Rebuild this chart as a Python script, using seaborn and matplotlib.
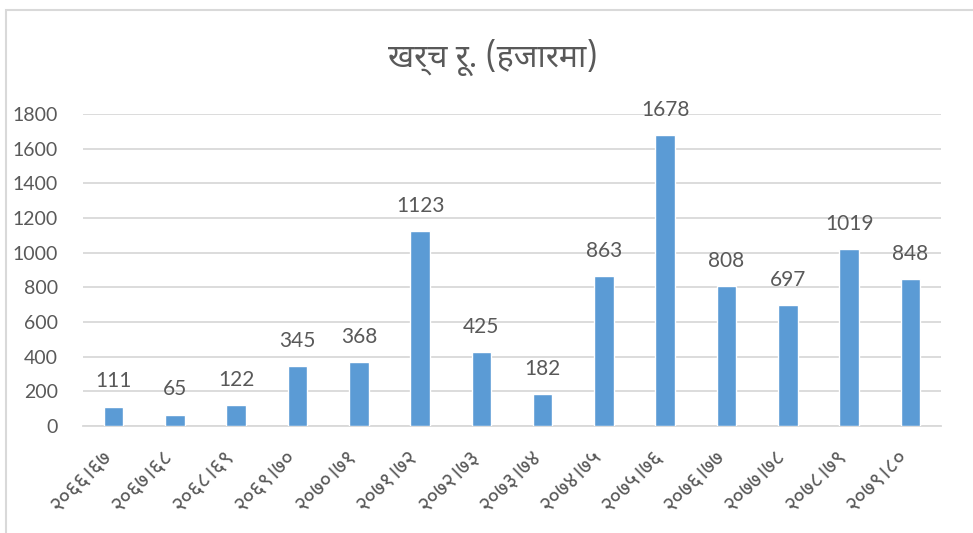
import matplotlib
matplotlib.use("Agg")
import matplotlib.pyplot as plt
from matplotlib.patches import Rectangle
from matplotlib.transforms import ScaledTranslation
import seaborn as sns
import pandas as pd

# ---- data ----
years = ["२०६६।६७", "२०६७।६८", "२०६८।६९", "२०६९।७०", "२०७०।७१", "२०७१।७२", "२०७२।७३",
         "२०७३।७४", "२०७४।७५", "२०७५।७६", "२०७६।७७", "२०७७।७८", "२०७८।७९", "२०७९।८०"]
values = [111, 65, 122, 345, 368, 1123, 425, 182, 863, 1678, 808, 697, 1019, 848]
title_text = "खर्च रू. (हजारमा)"
yticks = [0, 200, 400, 600, 800, 1000, 1200, 1400, 1600, 1800]

sns.set_theme(style="white")
plt.rcParams['font.family'] = ['Noto Sans Devanagari', 'Lato', 'DejaVu Sans']

text_color = "#595959"
grid_color = "#d9d9d9"
bar_color = "#5b9bd5"

fig = plt.figure(figsize=(9.73, 5.33), dpi=100)
ax = fig.add_axes([83/973, 1-426/533, (941-83)/973, (426-114)/533])

df = pd.DataFrame({"year": years, "value": values})
sns.barplot(data=df, x="year", y="value", color=bar_color, width=0.32,
            saturation=1, ax=ax, zorder=3)

ax.set_ylim(0, 1800)
ax.set_xlim(-0.5, len(years)-0.5)
ax.set_yticks(yticks)
ax.set_yticklabels([str(t) for t in yticks], fontsize=14, color=text_color,
                   family=['Lato', 'DejaVu Sans'])
ax.yaxis.grid(True, color=grid_color, linewidth=1.3, zorder=0)
ax.set_axisbelow(True)
for s in ["top", "right", "left"]:
    ax.spines[s].set_visible(False)
ax.spines["bottom"].set_color(grid_color)
ax.spines["bottom"].set_linewidth(1.3)
ax.tick_params(axis='both', length=0)
ax.tick_params(axis='y', pad=18)
ax.set_xticks(range(len(years)))
ax.set_xticklabels(years, rotation=45, ha='right', va='center', rotation_mode='anchor',
                   fontsize=16, color=text_color,
                   family=['Noto Sans Devanagari', 'DejaVu Sans'])
ax.tick_params(axis='x', pad=20)
shift = ScaledTranslation(-5/100, 0, fig.dpi_scale_trans)
for lab in ax.get_xticklabels():
    lab.set_transform(lab.get_transform() + shift)
ax.set_xlabel("")
ax.set_ylabel("")

for i, v in enumerate(values):
    ax.annotate(str(v), (i, v), xytext=(0, 11), textcoords="offset points",
                ha='center', va='bottom', fontsize=15, color=text_color,
                family=['Lato', 'DejaVu Sans'], annotation_clip=False)

fig.text(493/973, 1-57/533, title_text, ha='center', va='center',
         fontsize=23, color=text_color,
         family=['Noto Sans Devanagari', 'DejaVu Sans'])

fig.patches.append(Rectangle((6/973, -0.1), 1.2, 1-10/533+0.1, transform=fig.transFigure,
                             fill=False, edgecolor=grid_color, linewidth=1.5))

fig.savefig("out.png", dpi=100)
